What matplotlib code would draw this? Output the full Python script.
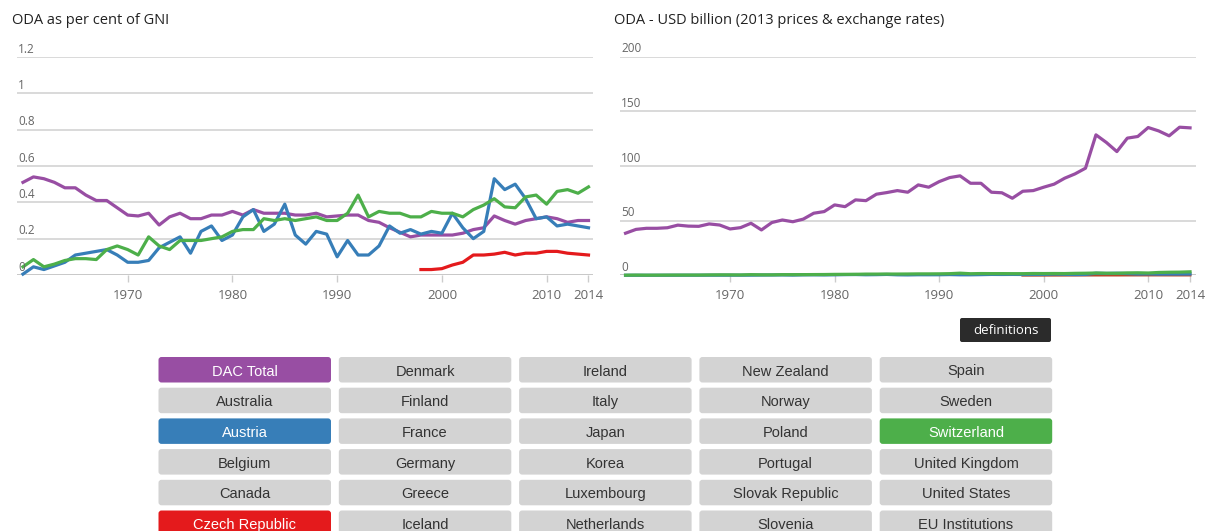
import matplotlib
matplotlib.use("Agg")
import matplotlib.pyplot as plt
from matplotlib.patches import FancyBboxPatch

# ---- data ----
years = list(range(1960, 2015))

# ODA as per cent of GNI
dac_gni = [0.51, 0.54, 0.53, 0.51, 0.48, 0.48, 0.44, 0.41, 0.41, 0.37,
           0.33, 0.325, 0.34, 0.275, 0.32, 0.34, 0.31, 0.31, 0.33, 0.33,
           0.35, 0.33, 0.36, 0.34, 0.34, 0.34, 0.33, 0.33, 0.34, 0.32,
           0.325, 0.33, 0.33, 0.30, 0.29, 0.26, 0.235, 0.21, 0.22, 0.22,
           0.22, 0.22, 0.23, 0.25, 0.26, 0.325, 0.30, 0.28, 0.30, 0.31,
           0.32, 0.31, 0.29, 0.30, 0.30]
austria_gni = [0.005, 0.045, 0.03, 0.05, 0.07, 0.11, 0.12, 0.13, 0.14, 0.11,
               0.07, 0.07, 0.08, 0.15, 0.18, 0.21, 0.12, 0.24, 0.27, 0.19,
               0.22, 0.32, 0.36, 0.24, 0.28, 0.39, 0.22, 0.17, 0.24, 0.225,
               0.10, 0.19, 0.11, 0.11, 0.16, 0.27, 0.23, 0.25, 0.225, 0.24,
               0.23, 0.34, 0.26, 0.20, 0.24, 0.53, 0.47, 0.50, 0.42, 0.31,
               0.32, 0.27, 0.28, 0.27, 0.26]
swiss_gni = [0.045, 0.085, 0.045, 0.06, 0.08, 0.09, 0.09, 0.085, 0.14, 0.16,
             0.14, 0.11, 0.21, 0.16, 0.14, 0.19, 0.19, 0.19, 0.20, 0.21,
             0.24, 0.25, 0.25, 0.31, 0.30, 0.31, 0.30, 0.31, 0.32, 0.30,
             0.30, 0.34, 0.44, 0.32, 0.35, 0.34, 0.34, 0.32, 0.32, 0.35,
             0.34, 0.34, 0.32, 0.36, 0.385, 0.42, 0.375, 0.37, 0.43, 0.44,
             0.39, 0.46, 0.47, 0.45, 0.485]
czech_years = list(range(1998, 2015))
czech_gni = [0.03, 0.03, 0.035, 0.055, 0.07, 0.11, 0.11, 0.115, 0.125, 0.11,
             0.12, 0.12, 0.13, 0.13, 0.12, 0.115, 0.11]

# ODA - USD billion (2013 prices & exchange rates)
dac_usd = [38.5, 42, 43, 43, 43.5, 45.9, 45, 44.8, 47, 46,
           42.4, 43.6, 47.6, 41.5, 48.3, 50.6, 49, 51.4, 56.8, 58.3,
           64.4, 62.8, 69, 68.3, 74.2, 75.7, 77.5, 76, 82.7, 80.6,
           85.7, 89.4, 91, 84.2, 84.2, 76, 75.5, 70.5, 76.9, 77.5,
           80.6, 83.4, 88.8, 92.8, 98, 128.5, 121.5, 113.2, 125.5, 127,
           135.2, 132.1, 127.6, 135.5, 134.9]
austria_usd = [0.01, 0.03, 0.03, 0.04, 0.05, 0.07, 0.08, 0.09, 0.1, 0.09,
               0.1, 0.1, 0.12, 0.22, 0.28, 0.34, 0.2, 0.4, 0.45, 0.35,
               0.45, 0.62, 0.7, 0.5, 0.6, 0.8, 0.45, 0.35, 0.5, 0.48,
               0.5, 0.65, 0.45, 0.45, 0.6, 0.8, 0.75, 0.8, 0.75, 0.8,
               0.8, 1.1, 0.9, 0.7, 0.8, 1.9, 1.7, 1.9, 1.6, 1.2,
               1.3, 1.1, 1.15, 1.15, 1.2]
swiss_usd = [0.1, 0.2, 0.12, 0.15, 0.2, 0.22, 0.23, 0.22, 0.35, 0.42,
             0.4, 0.33, 0.6, 0.45, 0.42, 0.6, 0.6, 0.62, 0.68, 0.72,
             0.85, 0.9, 0.92, 1.1, 1.1, 1.15, 1.15, 1.2, 1.3, 1.3,
             1.35, 1.5, 1.95, 1.45, 1.6, 1.55, 1.55, 1.5, 1.5, 1.65,
             1.6, 1.65, 1.6, 1.8, 1.9, 2.1, 1.9, 1.85, 2.2, 2.3,
             2.1, 2.6, 2.8, 2.9, 3.2]
czech_usd = [0.04, 0.04, 0.05, 0.07, 0.09, 0.13, 0.14, 0.15, 0.17, 0.16,
             0.19, 0.2, 0.22, 0.22, 0.2, 0.19, 0.2]

tick_years = [1970, 1980, 1990, 2000, 2010, 2014]
left_yticks = [0, 0.2, 0.4, 0.6, 0.8, 1, 1.2]
left_ylabels = ["0", "0.2", "0.4", "0.6", "0.8", "1", "1.2"]
right_yticks = [0, 50, 100, 150, 200]
right_ylabels = ["0", "50", "100", "150", "200"]

buttons = [["DAC Total", "Denmark", "Ireland", "New Zealand", "Spain"],
           ["Australia", "Finland", "Italy", "Norway", "Sweden"],
           ["Austria", "France", "Japan", "Poland", "Switzerland"],
           ["Belgium", "Germany", "Korea", "Portugal", "United Kingdom"],
           ["Canada", "Greece", "Luxembourg", "Slovak Republic", "United States"],
           ["Czech Republic", "Iceland", "Netherlands", "Slovenia", "EU Institutions"]]

PURPLE = "#984ea3"
BLUE = "#377eb8"
GREEN = "#4daf4a"
RED = "#e41a1c"
selected = {"DAC Total": PURPLE, "Austria": BLUE,
            "Switzerland": GREEN, "Czech Republic": RED}

W, H = 1207, 531
fig = plt.figure(figsize=(W / 100, H / 100), dpi=100)
fig.patch.set_facecolor("white")

chart_font = ["Open Sans", "DejaVu Sans"]
grid_c = "#d9d9d9"
label_c = "#666666"


def style_axes(ax, yticks, ylabels, ymax):
    ax.set_ylim(0, ymax)
    for s in ax.spines.values():
        s.set_visible(False)
    ax.set_yticks([])
    for v, lab in zip(yticks, ylabels):
        ax.axhline(v, color=grid_c if v else "#c8c8c8", lw=1.4, zorder=0)
        ax.annotate(lab, xy=(0, v), xycoords=("axes fraction", "data"),
                    xytext=(1, 1), textcoords="offset points",
                    ha="left", va="bottom", fontsize=8.5, color=label_c,
                    family=chart_font)
    ax.set_xticks(tick_years)
    ax.set_xticklabels([str(y) for y in tick_years], family=chart_font)
    ax.tick_params(axis="x", length=5, width=1, color="#cccccc",
                   labelsize=9.5, labelcolor=label_c, pad=5)


# left chart
ax1 = fig.add_axes([17 / W, 1 - 275 / H, 576 / W, 218 / H])
ax1.set_xlim(1959.43, 2014.43)
style_axes(ax1, left_yticks, left_ylabels, 1.2)
ax1.plot(years, dac_gni, color=PURPLE, lw=2.3, clip_on=False)
ax1.plot(years, austria_gni, color=BLUE, lw=2.3, clip_on=False)
ax1.plot(years, swiss_gni, color=GREEN, lw=2.3, clip_on=False)
ax1.plot(czech_years, czech_gni, color=RED, lw=2.3, clip_on=False)

# right chart
ax2 = fig.add_axes([620 / W, 1 - 275.3 / H, 576 / W, 218.6 / H])
ax2.set_xlim(1959.47, 2014.57)
style_axes(ax2, right_yticks, right_ylabels, 200)
ax2.plot(years, dac_usd, color=PURPLE, lw=2.3, clip_on=False)
ax2.plot(czech_years, czech_usd, color="#b5482a", lw=2.0, clip_on=False)
ax2.plot(years, austria_usd, color=BLUE, lw=2.3, clip_on=False)
ax2.plot(years, swiss_usd, color=GREEN, lw=2.3, clip_on=False)

fig.text(12 / W, 1 - 20 / H, "ODA as per cent of GNI", fontsize=10.5,
         color="#222222", va="center", ha="left", family=chart_font)
fig.text(614 / W, 1 - 20 / H, "ODA - USD billion (2013 prices & exchange rates)",
         fontsize=10.5, color="#222222", va="center", ha="left", family=chart_font)

# overlay in pixel coords for buttons
ov = fig.add_axes([0, 0, 1, 1], zorder=-1)
ov.set_xlim(0, W)
ov.set_ylim(H, 0)
ov.axis("off")

ov.add_patch(FancyBboxPatch((960, 318), 91, 24, boxstyle="round,pad=0,rounding_size=2",
                            fc="#2b2b2b", ec="none"))
ov.text(1005.5, 330, "definitions", color="white", fontsize=9.5,
        ha="center", va="center", family=chart_font)

for r, row in enumerate(buttons):
    for c, name in enumerate(row):
        x0 = 158.5 + c * 180.3
        y0 = 357 + r * 30.7
        fc = selected.get(name, "#d3d3d3")
        tc = "white" if name in selected else "#333333"
        ov.add_patch(FancyBboxPatch((x0, y0), 172.5, 25.5,
                                    boxstyle="round,pad=0,rounding_size=3",
                                    fc=fc, ec="none"))
        ov.text(x0 + 86.25, y0 + 14.5, name, color=tc, fontsize=10.5,
                ha="center", va="center", family=["Liberation Sans", "DejaVu Sans"])

fig.savefig("out.png", dpi=100)
